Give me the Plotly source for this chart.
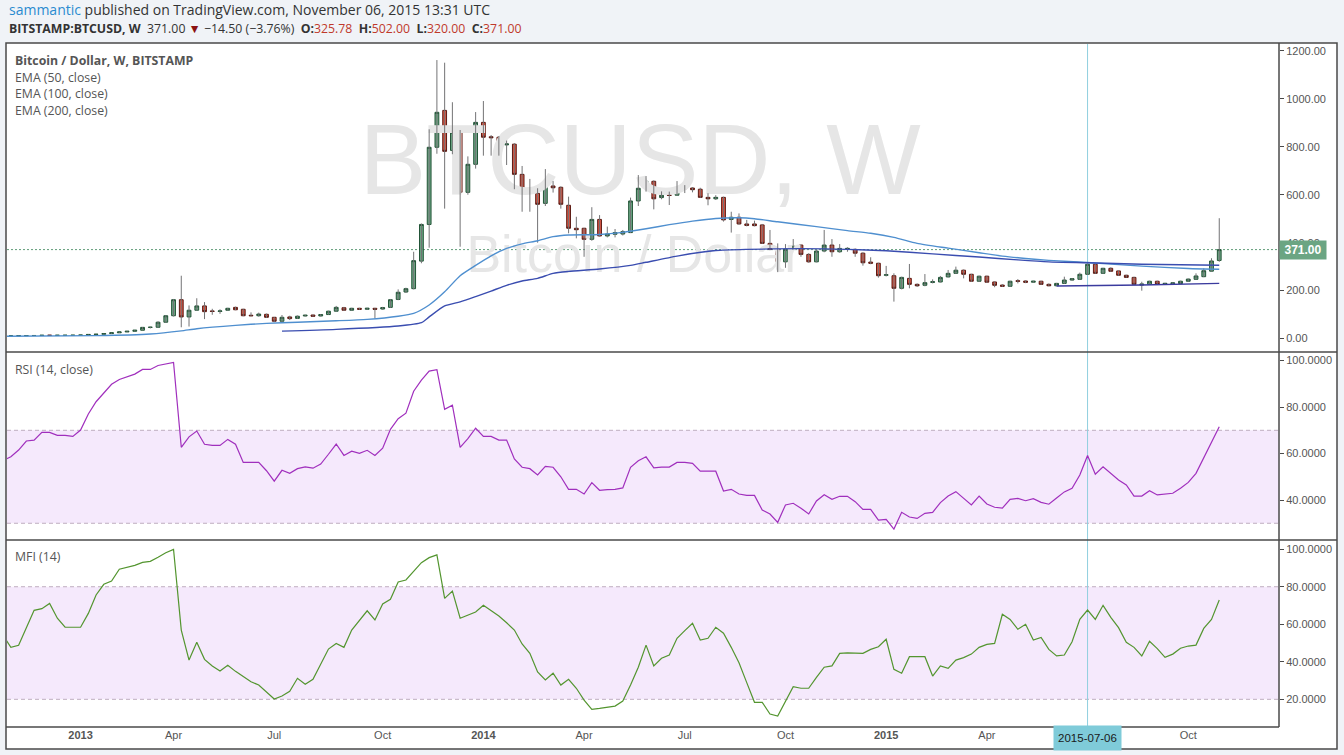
import plotly.graph_objects as go
import pandas as pd

# ---------------- data ----------------
first_week = "2012-10-29"
n_weeks = 158
week_dates = pd.date_range(first_week, periods=n_weeks, freq="7D")

open_ = [10.6, 10.9, 10.9, 11.8, 12.3, 12.6, 13.5, 13.3, 13.4, 13.4,
         13.6, 14.2, 16.9, 17.8, 20.4, 23.8, 27.4, 30.2, 34.5, 46.5,
         47.0, 68.0, 95.0, 162.0, 90.0, 118.0, 136.0, 115.0, 113.0, 118.0,
         130.0, 122.0, 97.0, 95.0, 101.0, 88.5, 72.0, 90.0, 84.0, 94.0,
         98.0, 94.0, 100.0, 114.0, 128.5, 118.0, 126.0, 122.0, 126.0, 123.0,
         130.0, 163.0, 194.0, 208.0, 323.0, 476.0, 798.0, 952.0, 785.0, 861.0,
         610.0, 727.0, 902.0, 842.0, 840.0, 808.0, 811.0, 685.0, 620.0, 606.0,
         564.0, 636.5, 631.0, 556.0, 460.0, 460.0, 414.0, 497.0, 428.0, 435.0,
         436.0, 442.0, 574.0, 627.0, 656.0, 588.0, 600.0, 598.0, 632.0, 628.0,
         623.0, 589.0, 583.0, 589.0, 497.0, 506.0, 478.0, 478.0, 474.0, 397.0,
         372.0, 320.0, 375.0, 390.0, 351.0, 320.0, 365.0, 390.0, 362.0, 373.0,
         372.0, 356.0, 319.0, 314.0, 264.0, 262.0, 209.5, 251.0, 226.0, 222.0,
         234.0, 236.0, 257.0, 272.0, 285.0, 268.0, 239.0, 260.0, 236.0, 223.0,
         218.0, 241.0, 240.0, 235.0, 239.0, 226.0, 220.0, 230.0, 244.0, 247.0,
         268.0, 310.0, 272.0, 293.0, 282.0, 264.0, 255.0, 223.0, 226.0, 239.0,
         226.0, 229.0, 229.0, 239.0, 247.0, 258.0, 281.0, 325.78]
high = [11.0, 11.1, 11.9, 12.4, 12.8, 13.6, 13.7, 13.6, 13.6, 13.7,
        14.3, 17.0, 18.2, 20.6, 24.0, 27.5, 30.5, 34.8, 48.0, 49.0,
        72.0, 97.0, 165.0, 262.0, 138.0, 168.0, 152.0, 124.0, 122.0, 128.0,
        133.0, 124.0, 109.0, 108.0, 104.0, 90.0, 98.0, 95.0, 96.0, 99.0,
        100.0, 102.0, 116.0, 136.0, 132.0, 128.0, 128.0, 128.0, 128.0, 132.0,
        165.0, 205.0, 212.0, 362.0, 480.0, 873.0, 1162.0, 1151.0, 986.0, 870.0,
        760.0, 945.0, 991.0, 849.0, 845.0, 826.0, 815.0, 720.0, 666.0, 627.0,
        707.0, 657.0, 635.0, 592.0, 508.0, 462.0, 548.0, 515.0, 467.0, 457.0,
        453.0, 588.0, 682.0, 678.0, 660.0, 614.0, 613.0, 657.0, 640.0, 632.0,
        629.0, 606.0, 598.0, 592.0, 529.0, 522.0, 495.0, 492.0, 478.0, 453.0,
        397.0, 394.0, 415.0, 392.0, 356.0, 369.0, 453.0, 415.0, 394.0, 381.0,
        376.0, 360.0, 339.0, 316.0, 303.0, 272.0, 258.0, 311.0, 230.0, 269.0,
        247.0, 261.0, 286.0, 300.0, 288.0, 270.0, 262.0, 262.0, 238.0, 227.0,
        241.0, 248.0, 243.0, 241.0, 241.0, 230.0, 232.0, 258.0, 252.0, 275.0,
        312.0, 312.0, 295.0, 297.0, 283.0, 266.0, 258.0, 237.0, 241.0, 241.0,
        232.0, 234.0, 241.0, 250.0, 272.0, 293.0, 335.0, 502.0]
low = [10.4, 10.6, 10.8, 11.5, 12.0, 12.4, 13.1, 13.2, 13.2, 13.2,
       13.5, 14.1, 16.0, 17.2, 19.6, 23.0, 27.0, 30.0, 34.0, 42.0,
       46.0, 66.0, 92.0, 47.0, 50.0, 116.0, 81.0, 99.0, 103.0, 116.0,
       118.0, 93.0, 93.0, 91.0, 86.0, 68.0, 68.0, 77.0, 82.0, 92.0,
       91.0, 92.0, 99.0, 112.0, 115.0, 116.0, 120.0, 120.0, 84.0, 120.0,
       128.0, 160.0, 190.0, 205.0, 314.0, 379.0, 771.0, 542.0, 769.0, 383.0,
       600.0, 709.0, 763.0, 763.0, 763.0, 724.0, 623.0, 529.0, 529.0, 400.0,
       553.0, 609.0, 542.0, 439.0, 418.0, 341.0, 408.0, 425.0, 422.0, 422.0,
       430.0, 440.0, 553.0, 613.0, 539.0, 581.0, 557.0, 596.0, 607.0, 610.0,
       587.0, 556.0, 578.0, 488.0, 442.0, 475.0, 468.0, 468.0, 395.0, 368.0,
       277.0, 295.0, 372.0, 341.0, 316.0, 318.0, 360.0, 341.0, 358.0, 362.0,
       341.0, 304.0, 310.0, 254.0, 259.0, 154.0, 205.0, 209.5, 215.0, 218.0,
       230.0, 234.0, 255.0, 270.0, 251.0, 236.0, 237.0, 232.0, 214.0, 216.0,
       216.0, 230.0, 231.0, 233.0, 224.0, 218.0, 219.0, 228.0, 241.0, 245.0,
       265.0, 270.0, 270.0, 278.0, 262.0, 254.0, 224.0, 199.5, 224.0, 224.0,
       224.0, 227.0, 228.0, 237.0, 246.0, 256.0, 279.0, 320.0]
close = [10.9, 10.9, 11.8, 12.3, 12.6, 13.5, 13.3, 13.4, 13.4, 13.6,
         14.2, 16.9, 17.8, 20.4, 23.8, 27.4, 30.2, 34.5, 46.5, 47.0,
         68.0, 95.0, 162.0, 90.0, 118.0, 136.0, 112.0, 113.0, 115.0, 126.0,
         120.0, 95.0, 95.0, 102.0, 88.5, 72.0, 88.5, 83.0, 93.0, 97.0,
         93.0, 100.0, 114.0, 130.0, 118.0, 126.0, 122.0, 126.0, 122.0, 129.0,
         162.0, 193.0, 208.0, 325.0, 476.0, 798.0, 944.0, 781.0, 861.0, 610.0,
         727.0, 902.0, 840.0, 838.0, 810.0, 812.0, 685.0, 619.0, 610.0, 560.0,
         639.0, 629.0, 560.0, 460.0, 454.0, 414.0, 497.0, 428.0, 436.0, 442.0,
         446.0, 574.0, 627.0, 656.0, 583.0, 598.0, 597.0, 627.0, 625.0, 621.0,
         589.0, 583.0, 589.0, 495.0, 506.0, 478.0, 472.0, 471.0, 397.0, 372.0,
         320.5, 373.0, 385.0, 351.0, 320.0, 365.0, 390.0, 362.0, 376.0, 376.0,
         356.0, 316.0, 314.0, 262.0, 266.0, 209.5, 255.0, 226.0, 220.0, 233.0,
         237.0, 255.0, 272.0, 285.0, 268.0, 239.0, 260.0, 235.0, 222.0, 218.0,
         239.0, 239.0, 234.5, 239.0, 226.0, 220.0, 230.0, 244.0, 249.6, 268.0,
         310.0, 272.0, 293.0, 280.5, 264.0, 255.0, 226.0, 227.0, 239.0, 226.0,
         230.0, 232.0, 239.0, 248.0, 261.0, 283.0, 323.5, 371.0]

rsi_14 = [57.0, 58.6, 61.5, 65.4, 65.8, 69.1, 69.1, 67.8, 67.8, 67.4,
          70.1, 77.0, 82.3, 86.2, 89.8, 91.9, 93.1, 94.2, 96.2, 96.2,
          97.9, 98.4, 99.2, 62.7, 67.2, 69.7, 64.0, 63.5, 63.5, 66.1,
          64.0, 56.2, 56.2, 56.2, 52.6, 48.1, 52.8, 51.5, 53.5, 54.3,
          53.7, 55.5, 59.7, 64.1, 59.2, 61.0, 60.1, 61.4, 59.2, 62.3,
          70.4, 75.0, 77.4, 86.8, 91.6, 95.5, 96.1, 79.0, 80.8, 62.7,
          66.4, 70.9, 67.4, 67.4, 65.8, 65.8, 57.7, 54.1, 53.5, 50.8,
          54.5, 54.1, 50.0, 44.6, 44.6, 42.6, 47.5, 44.2, 44.5, 44.6,
          45.2, 54.1, 56.9, 58.6, 53.8, 54.2, 54.2, 56.2, 56.2, 55.8,
          52.4, 52.4, 52.4, 43.9, 44.6, 42.6, 42.0, 42.0, 35.7, 34.0,
          30.4, 37.9, 38.6, 36.5, 34.0, 39.6, 42.3, 40.3, 41.6, 41.6,
          39.3, 36.0, 36.0, 31.4, 31.7, 27.5, 34.7, 32.7, 32.1, 34.3,
          34.7, 38.9, 41.7, 43.6, 40.7, 37.9, 41.7, 38.3, 36.9, 36.5,
          40.3, 40.7, 39.7, 40.6, 39.0, 38.2, 40.9, 43.5, 45.1, 50.8,
          59.2, 51.1, 54.3, 51.5, 48.6, 46.5, 41.7, 41.7, 44.0, 42.2,
          42.6, 42.9, 45.1, 47.6, 51.5, 58.0, 65.1, 71.5]

mfi_14 = [54.0, 47.7, 48.8, 58.4, 67.4, 68.3, 71.1, 63.2, 58.4, 58.4,
          58.4, 65.8, 75.6, 81.3, 83.0, 89.3, 90.3, 91.4, 93.0, 93.5,
          95.7, 98.1, 99.9, 56.9, 40.9, 50.4, 41.3, 37.8, 35.1, 38.1,
          34.9, 32.1, 29.4, 27.6, 23.9, 20.2, 21.8, 24.3, 31.2, 28.0,
          30.7, 38.7, 46.8, 49.8, 47.7, 56.9, 62.3, 67.2, 62.3, 70.8,
          73.3, 82.5, 83.6, 88.5, 92.8, 95.5, 97.0, 73.8, 77.7, 63.2,
          64.8, 66.5, 70.1, 67.4, 64.4, 60.8, 56.9, 49.5, 44.5, 34.6,
          30.3, 33.9, 27.6, 30.7, 25.9, 19.6, 14.7, 15.2, 15.7, 16.4,
          19.1, 27.6, 37.1, 48.9, 37.8, 41.9, 43.6, 52.5, 56.6, 60.5,
          51.6, 52.5, 58.4, 55.2, 47.7, 39.5, 28.9, 18.4, 18.4, 12.2,
          11.1, 19.3, 26.7, 25.9, 25.9, 31.7, 37.1, 37.8, 44.5, 44.8,
          44.5, 44.5, 46.6, 48.0, 52.0, 36.0, 33.9, 42.7, 42.7, 42.7,
          32.4, 37.8, 36.5, 40.9, 42.2, 44.1, 47.7, 49.3, 49.8, 65.3,
          62.6, 57.3, 60.0, 51.6, 53.0, 46.6, 43.1, 43.6, 50.7, 62.6,
          67.6, 62.6, 70.1, 63.7, 58.2, 50.4, 47.7, 43.1, 50.9, 47.0,
          42.4, 44.1, 47.2, 48.4, 48.9, 57.8, 62.6, 72.9]

# EMA values at selected weeks (week index into week_dates)
ema50_weeks = [0, 12, 19, 23, 25, 30, 34, 38, 43, 47, 51, 53, 55, 57, 59, 61,
               63, 65, 67, 69, 71, 73, 77, 80, 83, 86, 89, 92, 95, 97, 100,
               105, 109, 112, 115, 118, 122, 126, 129, 132, 135, 140, 147,
               153, 157]
ema50_vals = [9.5, 12, 19, 32, 41, 55, 63, 68, 74, 80, 93, 105, 140, 195, 262,
              305, 345, 376, 395, 408, 425, 432, 434, 443, 458, 475, 490, 501,
              504, 500, 487, 467, 450, 439, 422, 397, 377, 358, 344, 334, 326,
              317, 302, 292, 289]
ema100_weeks = [36, 43, 51, 54, 55, 57, 59, 61, 63, 65, 67, 69, 71, 73, 77, 81,
                83, 87, 92, 96, 103, 109, 114, 120, 126, 131, 135, 140, 147,
                157]
ema100_vals = [31, 38, 52, 66, 90, 136, 153, 175, 198, 222, 240, 251, 272,
               280, 290, 305, 318, 344, 367, 372, 375, 372, 366, 353, 340, 328,
               320, 316, 310, 305.5]
ema200_weeks = [136, 147, 157]
ema200_vals = [219, 223, 230]

crosshair_date = "2015-07-06"
last_close = 371.00

x_tick_dates = ["2013-01-07", "2013-04-01", "2013-07-01", "2013-10-07",
                "2014-01-06", "2014-04-07", "2014-07-07", "2014-10-06",
                "2015-01-05", "2015-04-06", "2015-10-05"]
x_tick_text = ["<b>2013</b>", "Apr", "Jul", "Oct", "<b>2014</b>", "Apr", "Jul",
               "Oct", "<b>2015</b>", "Apr", "Oct"]
price_ticks = [0, 200, 400, 600, 800, 1000, 1200]
rsi_ticks = [40, 60, 80, 100]
mfi_ticks = [20, 40, 60, 80, 100]

# ---------------- layout geometry (pixels) ----------------
W, H = 1344, 755
PL, PR, PT, PB = 7, 1279, 44, 727
SEP1, SEP2 = 352, 540


def fx(px):
    return (px - PL) / (PR - PL)


def fy(py):
    return (PB - py) / (PB - PT)


x_range = ["2012-11-01 12:00", "2015-12-26"]
price_range = [-56.3, 1229.0]
rsi_range = [22.8, 103.7]
mfi_range = [5.25, 104.9]

GREEN_BODY, GREEN_EDGE = "#6ba583", "#225437"
RED_BODY, RED_EDGE = "#d75442", "#5b1a13"
WICK = "#737375"
AX = "#4a4a4a"
TXT = "#555555"
BAND = "#f5e9fc"
BAND_LINE = "#bfaec0"

fig = go.Figure()

# watermark (drawn first so it sits beneath everything)
xl = pd.Timestamp(x_range[0])
xr = pd.Timestamp(x_range[1])


def wx_at(px):
    return xl + (xr - xl) * ((px - PL) / (PR - PL))


def pf(py):
    return price_range[0] + (price_range[1] - price_range[0]) * (SEP1 - py) / (SEP1 - PT)


fig.add_trace(go.Scatter(x=[wx_at(640)], y=[pf(169)], mode="text", text=["BTCUSD, W"],
                         textfont=dict(family="Liberation Sans", size=100, color="#e6e6e6"),
                         hoverinfo="skip", showlegend=False))
fig.add_trace(go.Scatter(x=[wx_at(634)], y=[pf(259)], mode="text", text=["Bitcoin / Dollar"],
                         textfont=dict(family="Liberation Sans", size=52, color="#e6e6e6"),
                         hoverinfo="skip", showlegend=False))

# wicks
wx, wy = [], []
for d, lo, hi in zip(week_dates, low, high):
    wx += [d, d, None]
    wy += [lo, hi, None]
fig.add_trace(go.Scatter(x=wx, y=wy, mode="lines", line=dict(color=WICK, width=1),
                         hoverinfo="skip", showlegend=False))

# bodies
body_hi = [max(o, c) for o, c in zip(open_, close)]
body_lo = [min(o, c) for o, c in zip(open_, close)]
fig.add_trace(go.Candlestick(x=week_dates, open=open_, high=body_hi, low=body_lo, close=close,
                             increasing=dict(fillcolor=GREEN_BODY, line=dict(color=GREEN_EDGE, width=1)),
                             decreasing=dict(fillcolor=RED_BODY, line=dict(color=RED_EDGE, width=1)),
                             whiskerwidth=0, showlegend=False, hoverinfo="skip"))

# EMAs
fig.add_trace(go.Scatter(x=[week_dates[i] for i in ema50_weeks], y=ema50_vals, mode="lines",
                         line=dict(color="#4f8fcf", width=1.4, shape="spline", smoothing=0.6),
                         hoverinfo="skip", showlegend=False))
fig.add_trace(go.Scatter(x=[week_dates[i] for i in ema100_weeks], y=ema100_vals, mode="lines",
                         line=dict(color="#3a4db0", width=1.4, shape="spline", smoothing=0.6),
                         hoverinfo="skip", showlegend=False))
fig.add_trace(go.Scatter(x=[week_dates[i] for i in ema200_weeks], y=ema200_vals, mode="lines",
                         line=dict(color="#3b3b9e", width=1.4),
                         hoverinfo="skip", showlegend=False))

# RSI and MFI
fig.add_trace(go.Scatter(x=week_dates, y=rsi_14, yaxis="y2", mode="lines",
                         line=dict(color="#a02fbd", width=1.2), hoverinfo="skip", showlegend=False))
fig.add_trace(go.Scatter(x=week_dates, y=mfi_14, yaxis="y3", mode="lines",
                         line=dict(color="#53952f", width=1.2), hoverinfo="skip", showlegend=False))

shapes = [
    dict(type="rect", xref="paper", yref="paper", x0=fx(6), x1=fx(1337), y0=fy(749), y1=fy(43),
         fillcolor="white", line=dict(width=0), layer="below"),
    dict(type="rect", xref="x domain", yref="y2", x0=0, x1=1, y0=30, y1=70,
         fillcolor=BAND, line=dict(width=0), layer="below"),
    dict(type="rect", xref="x domain", yref="y3", x0=0, x1=1, y0=20, y1=80,
         fillcolor=BAND, line=dict(width=0), layer="below"),
]
for yr, v in [("y2", 70), ("y2", 30), ("y3", 80), ("y3", 20)]:
    shapes.append(dict(type="line", xref="x domain", yref=yr, x0=0, x1=1, y0=v, y1=v,
                       line=dict(color=BAND_LINE, width=1, dash="4px,3px"), layer="below"))
shapes.append(dict(type="line", xref="x domain", yref="y", x0=0, x1=1, y0=last_close, y1=last_close,
                   line=dict(color="#5f9c78", width=1, dash="2px,2px"), layer="below"))
shapes.append(dict(type="line", xref="x", yref="paper", x0=crosshair_date, x1=crosshair_date,
                   y0=0, y1=1, line=dict(color="#90cfdf", width=1), layer="below"))
# panel separators, axis lines, frame
for py in (SEP1, SEP2):
    shapes.append(dict(type="line", xref="paper", yref="paper", x0=fx(6), x1=fx(1337),
                       y0=fy(py), y1=fy(py), line=dict(color=AX, width=1.5)))
shapes.append(dict(type="line", xref="paper", yref="paper", x0=fx(6), x1=fx(PR),
                   y0=fy(PB), y1=fy(PB), line=dict(color=AX, width=1.5)))
shapes.append(dict(type="line", xref="paper", yref="paper", x0=fx(PR), x1=fx(PR),
                   y0=fy(PB), y1=fy(43), line=dict(color=AX, width=1.5)))
shapes.append(dict(type="rect", xref="paper", yref="paper", x0=fx(6), x1=fx(1337),
                   y0=fy(749), y1=fy(43), line=dict(color=AX, width=1.5)))

ann = []
ann.append(dict(xref="paper", yref="paper", x=fx(7), y=fy(10), xanchor="left", yanchor="middle",
                showarrow=False, font=dict(family="Open Sans", size=14, color="#333333"),
                text="<span style='color:#2a8bd0'>sammantic</span> published on TradingView.com, November 06, 2015 13:31 UTC"))
red = "#c0392b"
header2 = ("<b>BITSTAMP:BTCUSD, W</b>  371.00 <span style='color:#8b1212'>\u25bc</span>"
           " \u221214.50 (\u22123.76%)  <b>O:</b><span style='color:" + red + "'>325.78</span>"
           "  <b>H:</b><span style='color:" + red + "'>502.00</span>"
           "  <b>L:</b><span style='color:" + red + "'>320.00</span>"
           "  <b>C:</b><span style='color:" + red + "'>371.00</span>")
ann.append(dict(xref="paper", yref="paper", x=fx(7), y=fy(29), xanchor="left", yanchor="middle",
                showarrow=False, font=dict(family="Open Sans", size=12.3, color="#333333"),
                text=header2))
legend_lines = [("<b>Bitcoin / Dollar, W, BITSTAMP</b>", 60), ("EMA (50, close)", 77),
                ("EMA (100, close)", 94), ("EMA (200, close)", 111),
                ("RSI (14, close)", 369), ("MFI (14)", 556)]
for t, py in legend_lines:
    ann.append(dict(xref="paper", yref="paper", x=fx(13), y=fy(py), xanchor="left", yanchor="middle",
                    showarrow=False, font=dict(family="Open Sans", size=12.3, color=TXT), text=t))
ann.append(dict(xref="paper", yref="y", x=1, y=last_close, xanchor="left", yanchor="middle",
                showarrow=False, text="<b>371.00</b>", bgcolor=GREEN_BODY, width=44, height=16,
                font=dict(family="Liberation Sans", size=12, color="white")))
ann.append(dict(xref="x", yref="paper", x=crosshair_date, y=fy(737.5), xanchor="center", yanchor="middle",
                showarrow=False, text="2015-07-06", bgcolor="#7fcbd9", width=65, height=22,
                font=dict(family="Liberation Sans", size=11.5, color="#1a1a1a")))

tickfont = dict(family="Liberation Sans", size=11, color=TXT)
fig.update_layout(
    width=W, height=H,
    margin=dict(l=PL, r=W - PR, t=PT, b=H - PB),
    paper_bgcolor="#f0f3f7", plot_bgcolor="rgba(0,0,0,0)",
    showlegend=False, hovermode=False,
    xaxis=dict(domain=[0, 1], range=x_range, anchor="y3", type="date",
               tickvals=x_tick_dates, ticktext=x_tick_text, ticks="", tickfont=tickfont,
               showgrid=False, zeroline=False, showline=False,
               rangeslider=dict(visible=False)),
    yaxis=dict(domain=[fy(SEP1), 1], range=price_range, side="right", anchor="x",
               tickvals=price_ticks, tickformat=".2f", ticks="outside", ticklen=4, tickcolor=AX,
               tickfont=tickfont, showgrid=False, zeroline=False, showline=False),
    yaxis2=dict(domain=[fy(SEP2), fy(SEP1)], range=rsi_range, side="right", anchor="x",
                tickvals=rsi_ticks, tickformat=".4f", ticks="outside", ticklen=4, tickcolor=AX,
                tickfont=tickfont, showgrid=False, zeroline=False, showline=False),
    yaxis3=dict(domain=[0, fy(SEP2)], range=mfi_range, side="right", anchor="x",
                tickvals=mfi_ticks, tickformat=".4f", ticks="outside", ticklen=4, tickcolor=AX,
                tickfont=tickfont, showgrid=False, zeroline=False, showline=False),
    shapes=shapes, annotations=ann,
)

fig.write_html("out.html", config={"displayModeBar": False},
               post_script="document.body.style.margin='0px';document.body.style.overflow='hidden';")
